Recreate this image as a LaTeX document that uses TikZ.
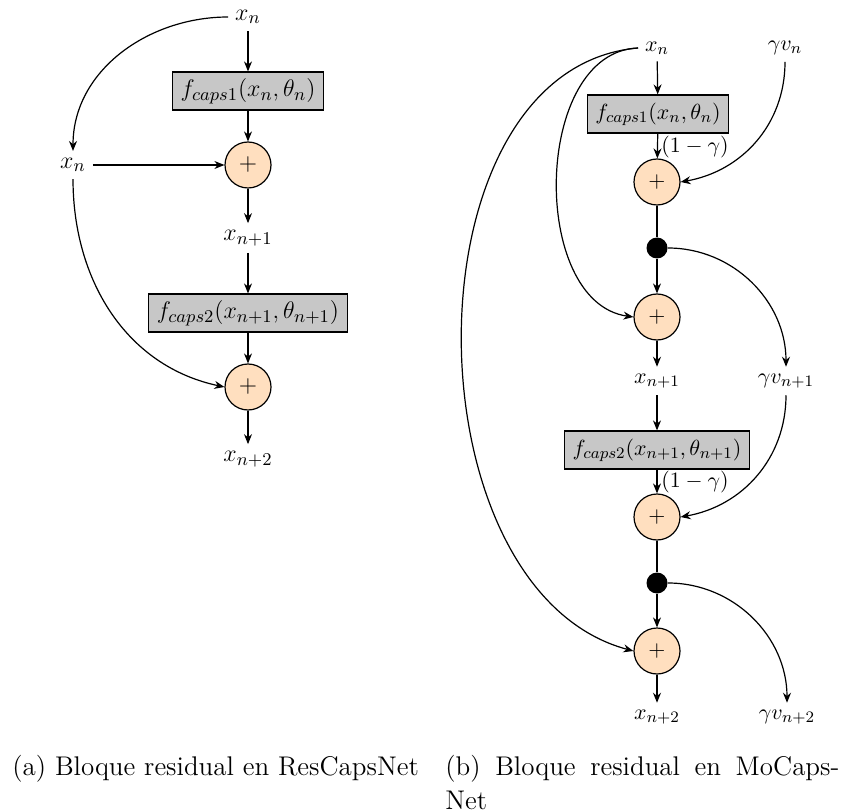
\documentclass[tikz,border=0pt]{standalone}
\usetikzlibrary{arrows.meta}
\begin{document}
\begin{tikzpicture}[x={(0.5pt,0)},y={(0,-0.5pt)},
  ln/.style={line width=0.6pt},
  arr/.style={ln,-{Stealth[length=5pt,width=4pt]}},
  fbox/.style={draw,fill=black!22,ln,inner xsep=4pt,inner ysep=3pt,minimum height=19pt},
  sumc/.style={circle,draw,fill=orange!25,ln,minimum size=23pt,inner sep=0pt},
  dotc/.style={circle,fill=black,minimum size=10.5pt,inner sep=0pt},
  fa/.style={font=\fontsize{13}{15}\selectfont},
  fb/.style={font=\fontsize{11}{13}\selectfont},
  captext/.style={font=\fontsize{13.5}{16}\selectfont,inner sep=0pt,anchor=base west}]
\useasboundingbox (0,0) rectangle (845,812);
% ---------- (a) ----------
\begin{scope}[fa]
\node (axn) at (248,17) {$x_n$};
\node[fbox] (abox1) at (248,91) {$f_{caps1}(x_n,\theta_n)$};
\node[sumc] (ac1) at (248,165) {$+$};
\node (axl) at (73,165) {$x_n$};
\node (axn1) at (248,238) {$x_{n+1}$};
\node[fbox] (abox2) at (248,313) {$f_{caps2}(x_{n+1},\theta_{n+1})$};
\node[sumc] (ac2) at (248,387) {$+$};
\node (axn2) at (248,459) {$x_{n+2}$};
\end{scope}
\draw[arr] (axn) -- (abox1);
\draw[arr] (abox1) -- (ac1);
\draw[arr] (ac1) -- (axn1);
\draw[arr] (axn1) -- (abox2);
\draw[arr] (abox2) -- (ac2);
\draw[arr] (ac2) -- (axn2);
\draw[arr] (axl) -- (ac1);
\draw[arr] (axn.west) to[out=180,in=90] (axl.north);
\draw[arr] (axl.south) to[out=-90,in=168] (ac2.west);
% ---------- (b) ----------
\begin{scope}[fb]
\node (bxn) at (657,48) {$x_n$};
\node (bgv) at (785,48) {$\gamma v_n$};
\node[fbox] (bbox1) at (658,114) {$f_{caps1}(x_n,\theta_n)$};
\node[inner sep=0pt] (bl1) at (695,147) {$(1-\gamma)$};
\node[sumc] (bc1) at (657,182) {$+$};
\node[dotc] (bd1) at (657,248) {};
\node[sumc] (bc2) at (657,317) {$+$};
\node (bxn1) at (657,381) {$x_{n+1}$};
\node (bgv1) at (786,381) {$\gamma v_{n+1}$};
\node[fbox] (bbox2) at (657,450) {$f_{caps2}(x_{n+1},\theta_{n+1})$};
\node[inner sep=0pt] (bl2) at (695,482) {$(1-\gamma)$};
\node[sumc] (bc3) at (657,517) {$+$};
\node[dotc] (bd2) at (657,583) {};
\node[sumc] (bc4) at (657,651) {$+$};
\node (bxn2) at (657,717) {$x_{n+2}$};
\node (bgv2) at (787,717) {$\gamma v_{n+2}$};
\end{scope}
\draw[arr] (bxn) -- (bbox1);
\draw[arr] (bbox1) -- (bc1);
\draw[ln] (bc1) -- (bd1);
\draw[arr] (bd1) -- (bc2);
\draw[arr] (bc2) -- (bxn1);
\draw[arr] (bxn1) -- (bbox2);
\draw[arr] (bbox2) -- (bc3);
\draw[ln] (bc3) -- (bd2);
\draw[arr] (bd2) -- (bc4);
\draw[arr] (bc4) -- (bxn2);
\draw[arr] (bgv.south) to[out=-90,in=10] (bc1.east);
\draw[arr] (bd1.east) to[out=0,in=90] (bgv1.north);
\draw[arr] (bgv1.south) to[out=-90,in=10] (bc3.east);
\draw[arr] (bd2.east) to[out=0,in=90] (bgv2.north);
\draw[arr] (bxn.west) to[out=182,in=172] (bc2.west);
\draw[arr] (bxn.west) to[out=185,in=165] (bc4.west);
% ---------- captions ----------
\node[captext] (capa) at (12,775) {(a) Bloque residual en ResCapsNet};
\node[captext] (capb1) at (445,775) {\makebox[197pt][s]{(b) Bloque residual en MoCaps-}};
\node[captext] (capb2) at (445,809) {Net};
\end{tikzpicture}
\end{document}
